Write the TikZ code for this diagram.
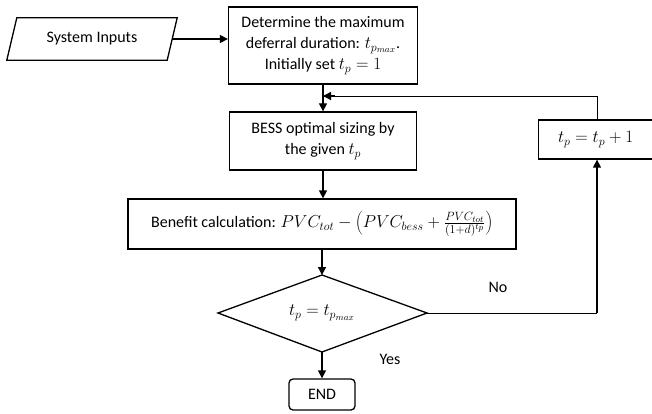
\documentclass[tikz,border=0pt]{standalone}
\usepackage{fontspec}
\setmainfont{Carlito}
\DeclareMathSizes{16}{17.8}{12.5}{9.5}
\usetikzlibrary{arrows.meta}
\begin{document}
\begin{tikzpicture}[x=1pt,y=-1pt,
  box/.style={draw,line width=1.3pt,align=center,inner sep=2pt,font=\fontsize{16}{21}\selectfont},
  main/.style={line width=1.3pt,-{Triangle[length=8pt,width=8pt]}},
  loop/.style={line width=0.8pt},
  lbl/.style={font=\fontsize{16}{21}\selectfont}]
\useasboundingbox (0,0) rectangle (652,414);
% System inputs
\node[lbl,minimum width=160,minimum height=42,inner sep=0] (inp) at (92,39) {System Inputs};
\draw[line width=1.3pt] ([xshift=5pt]inp.north west) -- ([xshift=5pt]inp.north east)
  -- ([xshift=-5pt]inp.south east) -- ([xshift=-5pt]inp.south west) -- cycle;
\node[box,minimum width=189,minimum height=77] (det) at (323,45.5)
  {Determine the maximum\\deferral duration: $t_{p_{max}}$.\\Initially set $t_p=1$};
\node[box,minimum width=187,minimum height=58] (bess) at (323,141)
  {BESS optimal sizing by\\the given $t_p$};
\node[box,minimum width=388,minimum height=50] (ben) at (322,224)
  {Benefit calculation: $PVC_{tot}-\left(PVC_{bess}+\frac{PVC_{tot}}{(1+d)^{t_p}}\right)$};
\coordinate (dl) at (218,313);
\coordinate (dr) at (427,313);
\coordinate (dt) at (322,275);
\coordinate (db) at (322,352);
\draw[line width=1.3pt] (dl) -- (dt) -- (dr) -- (db) -- cycle;
\node[lbl] (cond) at (322,313) {$t_p=t_{p_{max}}$};
\node[box,rounded corners=4pt,minimum width=66,minimum height=31] (end) at (322,394.5) {END};
\node[box,minimum width=114,minimum height=39,anchor=west] (inc) at (538,139.5) {$t_p=t_p+1$};
\coordinate (m) at (323,96);
\coordinate (lc) at (597,96);
\coordinate (rc) at (597,313);
% connectors
\draw[main] (inp.east) -- (det.west |- inp.east);
\draw[main] (det.south) -- (bess.north);
\draw[main] (bess.south) -- (ben.north -| bess.south);
\draw[main] (ben.south) -- (dt);
\draw[main] (db) -- (end.north);
\draw[loop] (dr) -- (rc);
\draw[main] (rc) -- (inc.south -| rc);
\draw[loop] (inc.north -| lc) -- (lc) -- ([xshift=1pt]m);
\draw[-{Triangle[length=8pt,width=8pt]},line width=1.3pt] ([xshift=12pt]m) -- (m);
\node[lbl] (yes) at (390,359) {Yes};
\node[lbl] (no) at (498,287) {No};
\end{tikzpicture}
\end{document}
